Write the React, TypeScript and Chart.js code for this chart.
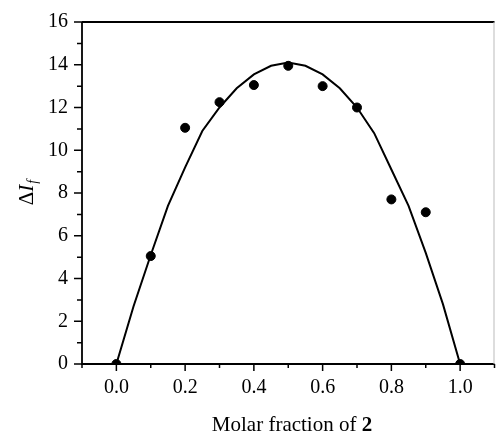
import React, { useEffect, useRef } from "react";
import { Chart, registerables } from "chart.js";

Chart.register(...registerables);

const pointX = [0, 0.1, 0.2, 0.3, 0.4, 0.5, 0.6, 0.7, 0.8, 0.9, 1.0];
const pointY = [0, 5.05, 11.05, 12.25, 13.05, 13.95, 13.0, 12.0, 7.7, 7.1, 0];

const curveX = [0, 0.05, 0.1, 0.15, 0.2, 0.25, 0.3, 0.35, 0.4, 0.45, 0.5, 0.55, 0.6, 0.65, 0.7, 0.75, 0.8, 0.85, 0.9, 0.95, 1.0];
const curveY = [0, 2.7, 5.1, 7.4, 9.2, 10.9, 12.0, 12.9, 13.55, 13.95, 14.1, 13.95, 13.55, 12.9, 12.0, 10.8, 9.1, 7.4, 5.2, 2.8, 0];

const xMajorTicks = [0, 0.2, 0.4, 0.6, 0.8, 1.0];
const xMinorTicks = [-0.1, 0.1, 0.3, 0.5, 0.7, 0.9, 1.1];
const yMajorTicks = [0, 2, 4, 6, 8, 10, 12, 14, 16];
const yMinorTicks = [1, 3, 5, 7, 9, 11, 13, 15];

const FONT = "'Liberation Serif', 'DejaVu Serif', serif";

const decorPlugin = {
  id: "decor",
  afterDraw(chart: any) {
    const { ctx, chartArea, scales } = chart;
    const xs = scales.x;
    const ys = scales.y;
    ctx.save();
    ctx.strokeStyle = "#000";
    ctx.lineWidth = 1.8;
    ctx.beginPath();
    ctx.moveTo(chartArea.left, chartArea.top);
    ctx.lineTo(chartArea.right, chartArea.top);
    ctx.moveTo(chartArea.left, chartArea.top);
    ctx.lineTo(chartArea.left, chartArea.bottom);
    ctx.lineTo(chartArea.right, chartArea.bottom);
    ctx.stroke();
    ctx.strokeStyle = "#bbb";
    ctx.lineWidth = 1;
    ctx.beginPath();
    ctx.moveTo(chartArea.right - 0.5, chartArea.top);
    ctx.lineTo(chartArea.right - 0.5, chartArea.bottom);
    ctx.stroke();
    ctx.strokeStyle = "#000";
    ctx.lineWidth = 1.5;
    ctx.beginPath();
    xMajorTicks.forEach((v) => {
      const p = xs.getPixelForValue(v);
      ctx.moveTo(p, chartArea.bottom);
      ctx.lineTo(p, chartArea.bottom + 7);
    });
    xMinorTicks.forEach((v) => {
      const p = xs.getPixelForValue(v);
      ctx.moveTo(p, chartArea.bottom);
      ctx.lineTo(p, chartArea.bottom + 4);
    });
    yMajorTicks.forEach((v) => {
      const p = ys.getPixelForValue(v);
      ctx.moveTo(chartArea.left, p);
      ctx.lineTo(chartArea.left - 8, p);
    });
    yMinorTicks.forEach((v) => {
      const p = ys.getPixelForValue(v);
      ctx.moveTo(chartArea.left, p);
      ctx.lineTo(chartArea.left - 5, p);
    });
    ctx.stroke();

    // x title
    ctx.fillStyle = "#000";
    ctx.textBaseline = "alphabetic";
    ctx.textAlign = "left";
    const part1 = "Molar fraction of ";
    const part2 = "2";
    ctx.font = `21px ${FONT}`;
    const w1 = ctx.measureText(part1).width;
    ctx.font = `bold 21px ${FONT}`;
    const w2 = ctx.measureText(part2).width;
    const cx = 292;
    const sx = cx - (w1 + w2) / 2;
    ctx.font = `21px ${FONT}`;
    ctx.fillText(part1, sx, 431);
    ctx.font = `bold 21px ${FONT}`;
    ctx.fillText(part2, sx + w1, 431);

    // y title
    ctx.translate(33, 193);
    ctx.rotate(-Math.PI / 2);
    ctx.font = `21px ${FONT}`;
    const d = "\u0394";
    const wd = ctx.measureText(d).width;
    ctx.font = `italic 21px ${FONT}`;
    const wi = ctx.measureText("I").width;
    ctx.font = `italic 14px ${FONT}`;
    const wf = ctx.measureText("f").width;
    const tx = -(wd + wi + wf) / 2;
    ctx.font = `21px ${FONT}`;
    ctx.fillText(d, tx, 0);
    ctx.font = `italic 21px ${FONT}`;
    ctx.fillText("I", tx + wd, 0);
    ctx.font = `italic 14px ${FONT}`;
    ctx.fillText("f", tx + wd + wi + 1, 4);
    ctx.restore();
  },
};

export default function App() {
  const ref = useRef<HTMLCanvasElement | null>(null);
  useEffect(() => {
    if (!ref.current) return;
    const chart = new Chart(ref.current, {
      type: "scatter",
      data: {
        datasets: [
          {
            label: "fit",
            data: curveX.map((x, i) => ({ x, y: curveY[i] })),
            showLine: true,
            borderColor: "#000",
            borderWidth: 2,
            pointRadius: 0,
            tension: 0,
          } as any,
          {
            label: "data",
            data: pointX.map((x, i) => ({ x, y: pointY[i] })),
            backgroundColor: "#000",
            borderColor: "#000",
            pointRadius: 4.5,
            pointHoverRadius: 4.5,
          },
        ],
      },
      options: {
        responsive: false,
        animation: false,
        layout: { padding: { top: 22, right: 1, left: 0, bottom: 0 } },
        plugins: { legend: { display: false }, tooltip: { enabled: false } },
        scales: {
          x: {
            type: "linear",
            min: -0.1,
            max: 1.1,
            afterBuildTicks: (s: any) => {
              s.ticks = xMajorTicks.map((v) => ({ value: v }));
            },
            afterFit: (s: any) => {
              s.height = 71;
              s.paddingLeft = 0;
              s.paddingRight = 0;
            },
            grid: { display: false, drawTicks: false },
            border: { display: false },
            ticks: {
              color: "#000",
              padding: 12,
              maxRotation: 0,
              autoSkip: false,
              font: { family: FONT, size: 20 },
              callback: (v: any) => Number(v).toFixed(1),
            },
          },
          y: {
            type: "linear",
            min: 0,
            max: 16,
            afterBuildTicks: (s: any) => {
              s.ticks = yMajorTicks.map((v) => ({ value: v }));
            },
            afterFit: (s: any) => {
              s.width = 82;
              s.paddingTop = 0;
              s.paddingBottom = 0;
            },
            grid: { display: false, drawTicks: false },
            border: { display: false },
            ticks: {
              color: "#000",
              padding: 14,
              autoSkip: false,
              font: { family: FONT, size: 20 },
              callback: (v: any) => String(v),
            },
          },
        },
      },
      plugins: [decorPlugin],
    });
    return () => chart.destroy();
  }, []);
  return (
    <div style={{ position: "absolute", left: 0, top: 0, width: 500, height: 435, background: "#fff" }}>
      <canvas ref={ref} width={500} height={435} />
    </div>
  );
}
